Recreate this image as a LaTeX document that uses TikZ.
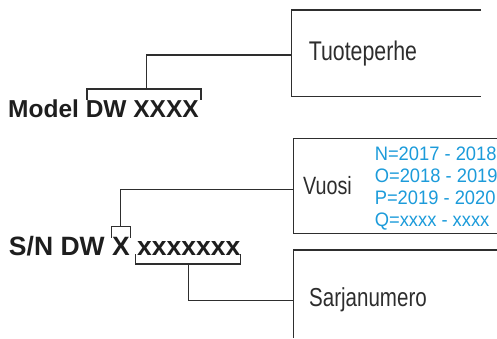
\documentclass[tikz,border=0pt]{standalone}
\usepackage{fontspec}
\setmainfont{Liberation Sans}
\newfontfamily\condfont[FakeStretch=0.79]{Liberation Sans}
\newfontfamily\bluefont[FakeStretch=0.94]{Liberation Sans}
\definecolor{lbl}{RGB}{45,45,45}
\definecolor{ink}{RGB}{30,30,30}
\definecolor{yr}{RGB}{28,155,218}
\begin{document}
\begin{tikzpicture}[x=1pt,y=1pt,
  ln/.style={draw=black!82,line width=1.2pt},
  boldtxt/.style={anchor=base west,inner sep=0pt,text=ink,font=\bfseries\fontsize{#1}{#1}\selectfont},
  graytxt/.style={anchor=base west,inner sep=0pt,text=lbl,font=\condfont\fontsize{#1}{#1}\selectfont},
  yrtxt/.style={anchor=base west,inner sep=0pt,text=yr,font=\bluefont\fontsize{19.5}{19.5}\selectfont}]
\useasboundingbox (0,0) rectangle (497,-338);
\clip (0,0) rectangle (497,-338);

% bold codes
\node[boldtxt=24.5] (model) at (8,-117) {Model};
\node[boldtxt=24.5] (dw) at (85.6,-117) {DW XXXX};
\node[boldtxt=26.5] (sn) at (8.8,-255.6) {S/N DW};
\node[boldtxt=26.5] (snx) at (111.9,-255.6) {X};
\node[boldtxt=26.5] (snser) at (137,-255.6) {xxxxxxx};

% labels
\node[graytxt=27] (tuote) at (308.6,-60.7) {Tuoteperhe};
\node[graytxt=25] (vuosi) at (303,-194.3) {Vuosi};
\node[graytxt=26] (sarja) at (309,-306) {Sarjanumero};
\node[yrtxt] (y1) at (374.6,-160.7) {N=2017 - 2018};
\node[yrtxt] (y2) at (374.6,-182.7) {O=2018 - 2019};
\node[yrtxt] (y3) at (374.6,-204.7) {P=2019 - 2020};
\node[yrtxt] (y4) at (374.6,-226.3) {Q=xxxx - xxxx};

% open boxes
\draw[ln] (481,-10) -- (291.7,-10) -- (291.7,-96.7) -- (481,-96.7);
\draw[ln] (497,-138.3) -- (293.5,-138.3) -- (293.5,-233.3) -- (497,-233.3);
\draw[ln] (497,-250) -- (293.5,-250) -- (293.5,-338);
\coordinate (tin) at (291.7,-55);
\coordinate (vin) at (293.5,-189.3);
\coordinate (sin) at (293.5,-300.7);

% brackets
\coordinate (mb) at (146.7,-89);
\draw[ln] (87,-100) -- (87,-89) -- (201,-89) -- (201,-100);
\coordinate (xb) at (120.7,-226.7);
\draw[ln] (111.7,-237.7) -- (111.7,-226.7) -- (130.7,-226.7) -- (130.7,-237.7);
\coordinate (sb) at (188.7,-264);
\draw[ln] (135.3,-254.3) -- (135.3,-264) -- (240.3,-264) -- (240.3,-254.3);

% connectors
\draw[ln] (mb) |- (tin);
\draw[ln] (xb) |- (vin);
\draw[ln] (sb) |- (sin);
\end{tikzpicture}
\end{document}
